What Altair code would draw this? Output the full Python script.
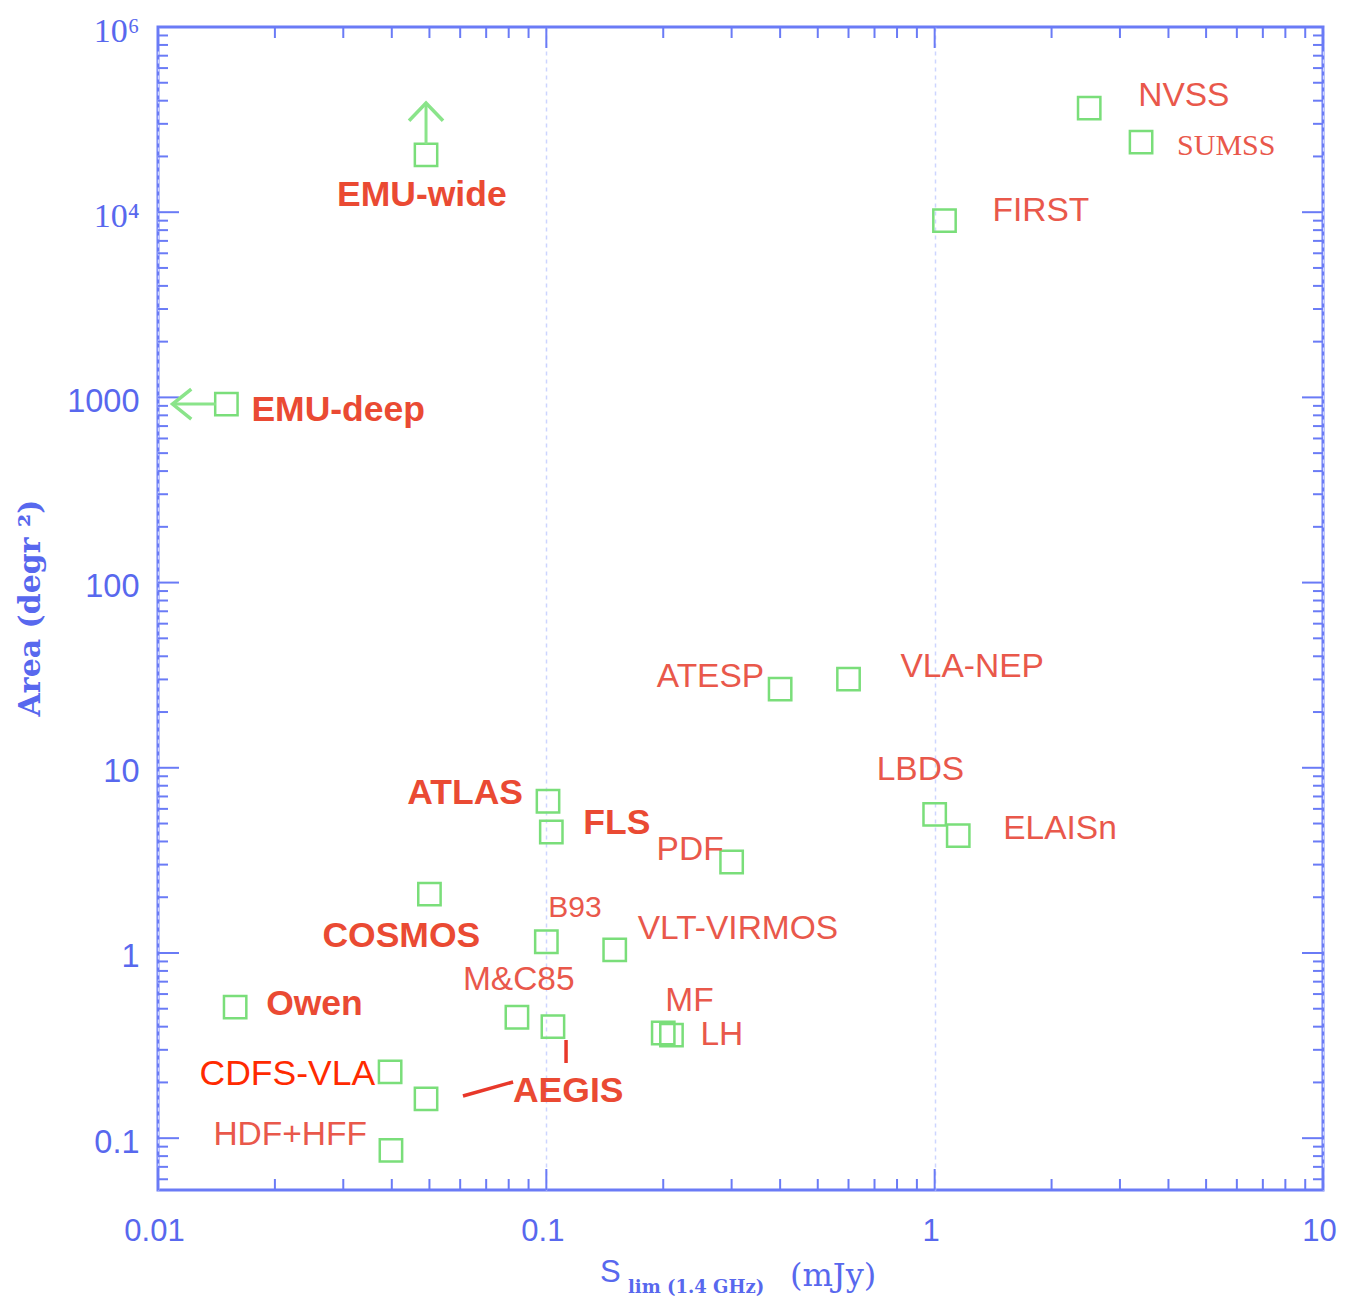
import altair as alt
import pandas as pd

# Radio continuum surveys: 1.4 GHz limiting flux density (mJy) and sky area (deg^2)
survey = ["NVSS", "SUMSS", "FIRST", "EMU-wide", "EMU-deep", "ATESP", "VLA-NEP",
          "LBDS", "ELAISn", "ATLAS", "FLS", "PDF", "COSMOS", "B93", "VLT-VIRMOS",
          "Owen", "M&C85", "AEGIS", "MF", "LH", "CDFS-VLA", "AEGIS-b", "HDF+HFF"]
s_lim = [2.5, 3.4, 1.06, 0.049, 0.015, 0.40, 0.60,
         1.0, 1.15, 0.101, 0.103, 0.30, 0.050, 0.100, 0.150,
         0.0158, 0.084, 0.104, 0.200, 0.210, 0.0396, 0.049, 0.0398]
area = [36500, 23900, 9000, 20400, 920, 26.6, 30.1,
        5.6, 4.3, 6.6, 4.5, 3.1, 2.08, 1.15, 1.04,
        0.51, 0.45, 0.40, 0.37, 0.36, 0.228, 0.163, 0.086]

# Text drawn next to each survey ("" = no label)
label_text = ["NVSS", "SUMSS", "FIRST", "EMU-wide", "EMU-deep", "ATESP", "VLA-NEP",
              "LBDS", "ELAISn", "ATLAS", "FLS", "PDF", "COSMOS", "B93", "VLT-VIRMOS",
              "Owen", "M&C85", "AEGIS", "MF", "LH", "CDFS-VLA", "", "HDF+HFF"]

# Limit arrows for the EMU surveys: tail and tip (flux, area)
arrow_tail_s = [0.049, 0.0141]
arrow_tail_a = [23300, 920]
arrow_tip_s = [0.049, 0.0109]
arrow_tip_a = [38900, 920]

# Leader lines from the AEGIS label
leader_s1 = [0.1124, 0.0610]
leader_a1 = [0.339, 0.169]
leader_s2 = [0.1124, 0.0821]
leader_a2 = [0.2547, 0.2012]

# Axis tick values
x_major = [0.01, 0.1, 1, 10]
x_minor = [k * d for d in (0.01, 0.1, 1) for k in range(2, 10)]
y_major = [0.1, 1, 10, 100, 1000, 1e4, 1e5]
y_minor = [k * d for d in (0.01, 0.1, 1, 10, 100, 1000, 1e4)
           for k in range(2, 10) if 0.0525 <= k * d <= 1e5]

# ---- layout / style ----
W, H = 1165, 1163
AXIS_BLUE = "#6a7bf6"
LABEL_BLUE = "#5868ee"
GREEN = "#7ade7a"
RED = "#e9584b"

label_layout = {
    "NVSS": ("left", 49, -12, "sans"),
    "SUMSS": ("left", 36, 4, "serif"),
    "FIRST": ("left", 48, -10, "sans"),
    "EMU-wide": ("left", -89, 40, "bold"),
    "EMU-deep": ("left", 25, 6, "bold"),
    "ATESP": ("right", -16, -12, "sans"),
    "VLA-NEP": ("left", 52, -12, "sans"),
    "LBDS": ("left", -58, -44, "sans"),
    "ELAISn": ("left", 45, -7, "sans"),
    "ATLAS": ("right", -25, -8, "bold"),
    "FLS": ("left", 32, -9, "bold"),
    "PDF": ("right", -8, -12, "sans"),
    "COSMOS": ("left", -107, 42, "bold"),
    "B93": ("left", 2, -34, "small"),
    "VLT-VIRMOS": ("left", 23, -21, "sans"),
    "Owen": ("left", 31, -3, "bold"),
    "M&C85": ("left", -54, -37, "sans"),
    "AEGIS": ("left", -40, 64, "bold"),
    "MF": ("left", 2, -32, "sans"),
    "LH": ("left", 29, 0, "sans"),
    "CDFS-VLA": ("right", -15, 2, "bright"),
    "HDF+HFF": ("right", -24, -15, "sans"),
}
styles = {
    "sans": dict(font="Liberation Sans", fontWeight="normal", fontSize=33.5, color=RED),
    "small": dict(font="Liberation Sans", fontWeight="normal", fontSize=30, color=RED),
    "bold": dict(font="Liberation Sans", fontWeight="bold", fontSize=35.5, color="#ea4a33"),
    "serif": dict(font="Liberation Serif", fontWeight="normal", fontSize=30, color=RED),
    "bright": dict(font="Liberation Sans", fontWeight="normal", fontSize=35.5, color="#ff2a00"),
}

df = pd.DataFrame({"name": survey, "s": s_lim, "area": area, "label": label_text})
arrows = pd.DataFrame({"s": arrow_tail_s, "a": arrow_tail_a,
                       "s2": arrow_tip_s, "a2": arrow_tip_a})
leaders = pd.DataFrame({"s": leader_s1, "a": leader_a1, "s2": leader_s2, "a2": leader_a2})

X_SCALE = alt.Scale(type="log", domain=[0.01, 10], nice=False)
Y_SCALE = alt.Scale(type="log", domain=[0.0525, 1e5], nice=False)

x_axis = alt.Axis(values=x_major, format="~g", title=None, domain=False, ticks=False,
                  tickSize=0, labelFont="Liberation Sans", labelFontSize=31,
                  labelColor=LABEL_BLUE, labelPadding=26, labelOffset=-4,
                  labelFlush=False, labelOverlap=False,
                  grid=True, gridColor="#cdd5ff", gridDash=[4, 4], gridWidth=1.5)
y_axis = alt.Axis(values=y_major, title=None, domain=False, ticks=False, tickSize=0,
                  labelExpr="datum.value >= 1e5 ? '10\u2076' : datum.value >= 1e4 ? '10\u2074' : format(datum.value, '~g')",
                  labelFont={"condition": {"test": "datum.value >= 1e4", "value": "Liberation Serif"},
                             "value": "Liberation Sans"},
                  labelFontSize={"condition": {"test": "datum.value >= 1e4", "value": 34},
                                 "value": 32.5},
                  labelFlush=False, labelOverlap=False,
                  labelColor=LABEL_BLUE, labelPadding=19, labelOffset=4, grid=False)

X = alt.X("s:Q", scale=X_SCALE, axis=x_axis)
Y = alt.Y("area:Q", scale=Y_SCALE, axis=y_axis)

layers = []

# survey squares (this layer carries the axes)
points = alt.Chart(df).mark_point(shape="square", filled=False, size=500,
                                  strokeWidth=2.5, color=GREEN, opacity=1).encode(x=X, y=Y)
layers.append(points)

# inward tick marks on all four sides
def ticks_x(vals, length):
    d = pd.DataFrame({"v": vals})
    bottom = alt.Chart(d).mark_rule(color=AXIS_BLUE, strokeWidth=2).encode(
        x=alt.X("v:Q", scale=X_SCALE, axis=None), y=alt.value(H), y2=alt.value(H - length))
    top = alt.Chart(d).mark_rule(color=AXIS_BLUE, strokeWidth=2).encode(
        x=alt.X("v:Q", scale=X_SCALE, axis=None), y=alt.value(0), y2=alt.value(length))
    return [bottom, top]

def ticks_y(vals, length):
    d = pd.DataFrame({"v": vals})
    left = alt.Chart(d).mark_rule(color=AXIS_BLUE, strokeWidth=2).encode(
        y=alt.Y("v:Q", scale=Y_SCALE, axis=None), x=alt.value(0), x2=alt.value(length))
    right = alt.Chart(d).mark_rule(color=AXIS_BLUE, strokeWidth=2).encode(
        y=alt.Y("v:Q", scale=Y_SCALE, axis=None), x=alt.value(W), x2=alt.value(W - length))
    return [left, right]

layers += ticks_x(x_minor, 11) + ticks_x(x_major, 21)
layers += ticks_y(y_minor, 10) + ticks_y(y_major, 21)

# limit arrows (shaft + open head)
shaft = alt.Chart(arrows).mark_rule(color="#8ae48a", strokeWidth=3).encode(
    x=alt.X("s:Q", scale=X_SCALE, axis=None), y=alt.Y("a:Q", scale=Y_SCALE, axis=None),
    x2="s2:Q", y2="a2:Q")
head_up = alt.Chart(arrows.iloc[[0]]).mark_point(
    shape="M -1 1.05 L 0 0 L 1 1.05", filled=False, size=1156, strokeWidth=3.5,
    color="#8ae48a", opacity=1).encode(
    x=alt.X("s2:Q", scale=X_SCALE, axis=None), y=alt.Y("a2:Q", scale=Y_SCALE, axis=None))
head_left = alt.Chart(arrows.iloc[[1]]).mark_point(
    shape="M 1.25 -1 L 0 0 L 1.25 1", filled=False, size=900, strokeWidth=3.5,
    color="#8ae48a", opacity=1).encode(
    x=alt.X("s2:Q", scale=X_SCALE, axis=None), y=alt.Y("a2:Q", scale=Y_SCALE, axis=None))
layers += [shaft, head_up, head_left]

# AEGIS leader lines
lead = alt.Chart(leaders).mark_rule(color="#e8382a", strokeWidth=3.5).encode(
    x=alt.X("s:Q", scale=X_SCALE, axis=None), y=alt.Y("a:Q", scale=Y_SCALE, axis=None),
    x2="s2:Q", y2="a2:Q")
layers.append(lead)

# survey labels
for name, text in zip(survey, label_text):
    if not text:
        continue
    align, dx, dy, style = label_layout[name]
    sub = df[df["name"] == name]
    layers.append(
        alt.Chart(sub).mark_text(align=align, baseline="middle", dx=dx, dy=dy,
                                 **styles[style]).encode(
            x=alt.X("s:Q", scale=X_SCALE, axis=None),
            y=alt.Y("area:Q", scale=Y_SCALE, axis=None),
            text="label:N"))

# axis titles
one = pd.DataFrame({"k": [0]})
y_title = alt.Chart(one).mark_text(text="Area (degr \u00b2)", angle=270, align="center",
                                   baseline="middle", font="DejaVu Serif", fontSize=30,
                                   fontWeight="bold", color=LABEL_BLUE).encode(
    x=alt.value(-127), y=alt.value(581))
x_title_s = alt.Chart(one).mark_text(text="S", align="left", baseline="middle",
                                     font="Liberation Sans", fontSize=31,
                                     color=LABEL_BLUE).encode(x=alt.value(442), y=alt.value(1246))
x_title_sub = alt.Chart(one).mark_text(text="lim (1.4 GHz)", align="left", baseline="middle",
                                       font="DejaVu Serif", fontWeight="bold", fontSize=18,
                                       color=LABEL_BLUE).encode(x=alt.value(470), y=alt.value(1261))
x_title_unit = alt.Chart(one).mark_text(text="(mJy)", align="left", baseline="middle",
                                        font="DejaVu Serif", fontSize=32,
                                        color=LABEL_BLUE).encode(x=alt.value(632), y=alt.value(1249))
layers += [y_title, x_title_s, x_title_sub, x_title_unit]

chart = alt.layer(*layers).resolve_axis(x="independent", y="independent").properties(
    width=W, height=H,
    autosize=alt.AutoSizeParams(type="none"),
    padding={"left": 158, "top": 27, "right": 22, "bottom": 113},
    background="white",
).configure_view(stroke=AXIS_BLUE, strokeWidth=3)

chart.save("out.html", embed_options={"renderer": "svg", "actions": False})
